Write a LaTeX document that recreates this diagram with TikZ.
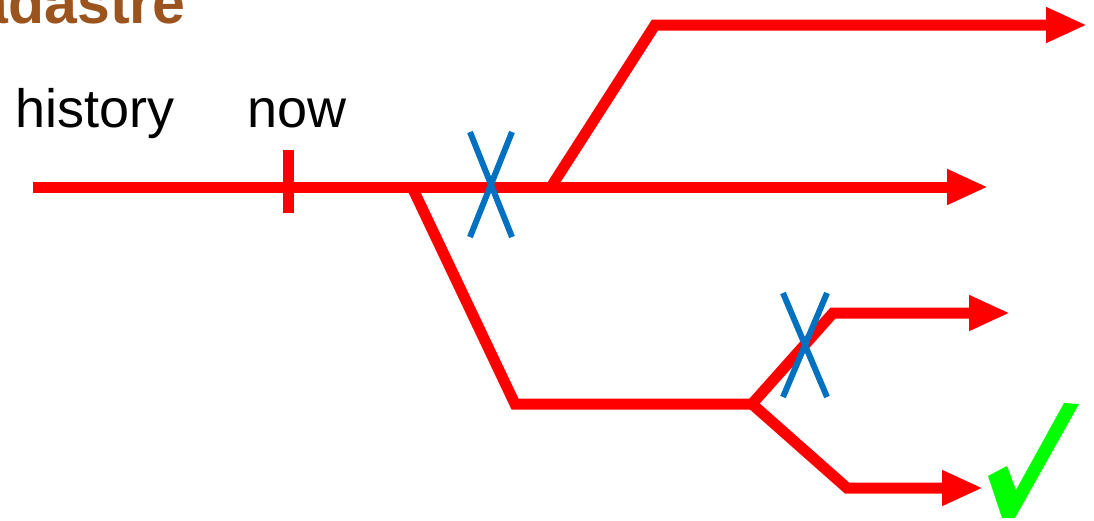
\documentclass[tikz,border=0pt]{standalone}
\usepackage{fontspec}
\setmainfont{Liberation Sans}
\usepackage{xcolor}
\usetikzlibrary{arrows.meta, positioning, calc}

\definecolor{pathred}{RGB}{255,0,0}
\definecolor{crossblue}{RGB}{0,112,192}
\definecolor{titlebrown}{RGB}{155,84,30}
\definecolor{okgreen}{RGB}{0,255,0}

\begin{document}
\begin{tikzpicture}[x=1pt, y=-1pt]
        \tikzstyle{label} = [inner sep=0pt, anchor=base west, font=\fontsize{54}{60}\selectfont, text=black]
        \tikzstyle{title} = [inner sep=0pt, anchor=base east, font=\fontsize{59}{64}\selectfont\bfseries, text=titlebrown]
        \tikzstyle{timeline} = [draw=pathred, line width=11pt, line join=miter]
        \tikzstyle{arrow} = [timeline, -{Triangle[length=41pt, width=33pt]}]
        \tikzstyle{cross} = [draw=crossblue, line width=6pt]

        \useasboundingbox (0,0) rectangle (1094,520);

        % Title and labels
        \node (title) [title] at (186,23) {Cadastre};
        \node (history) [label] at (15,127) {history};
        \node (now) [label] at (247,127) {now};

        % Points on the time lines
        \coordinate (start) at (33,187);
        \coordinate (tick) at (288,187);
        \coordinate (split1) at (412,187);
        \coordinate (split2) at (551,187);
        \coordinate (end1) at (988,187);
        \coordinate (up) at (655,25);
        \coordinate (end2) at (1087,25);
        \coordinate (down) at (515,404);
        \coordinate (split3) at (752,404);
        \coordinate (up2) at (833,313);
        \coordinate (end3) at (1010,313);
        \coordinate (down2) at (847,488);
        \coordinate (end4) at (983,488);

        % Time lines
        \draw [arrow] (start) -- (end1);
        \draw [timeline] ($(tick)+(0,-37)$) -- ($(tick)+(0,26)$);
        \draw [arrow] (split2) -- (up) -- (end2);
        \draw [timeline] (split1) -- (down) -- (split3);
        \draw [arrow] (split3) -- (up2) -- (end3);
        \draw [arrow] (split3) -- (down2) -- (end4);

        % Rejected futures
        \coordinate (x1) at (491,185);
        \coordinate (x2) at (805,345);
        \draw [cross] ($(x1)+(-21,-53)$) -- ($(x1)+(21,52)$);
        \draw [cross] ($(x1)+(21,-53)$) -- ($(x1)+(-21,52)$);
        \draw [cross] ($(x2)+(-22,-52)$) -- ($(x2)+(22,52)$);
        \draw [cross] ($(x2)+(22,-52)$) -- ($(x2)+(-22,52)$);

        % Chosen future
        \fill [okgreen] (988,476) -- (1007,466) -- (1016,490) -- (1064,403) -- (1079,404) -- (1015,518) -- (1002,518) -- cycle;
    \end{tikzpicture}
\end{document}
